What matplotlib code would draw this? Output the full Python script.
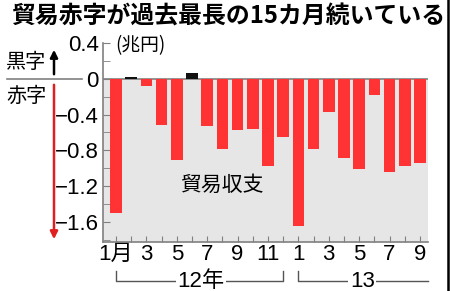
import numpy as np
import matplotlib.pyplot as plt
from matplotlib.lines import Line2D

# 貿易収支 (兆円), 2012年1月 - 2013年9月
values_2012 = [-1.50, 0.02, -0.08, -0.52, -0.91, 0.06, -0.53, -0.78, -0.57, -0.56, -0.97, -0.65]
values_2013 = [-1.64, -0.79, -0.37, -0.89, -1.01, -0.18, -1.04, -0.97, -0.94]
month_labels = ['1月', '', '3', '', '5', '', '7', '', '9', '', '11', '',
                '1', '', '3', '', '5', '', '7', '', '9']
y_ticks = [0.4, 0, -0.4, -0.8, -1.2, -1.6]
y_labels = ['0.4', '0', '−0.4', '−0.8', '−1.2', '−1.6']

values = np.array(values_2012 + values_2013)
x = np.arange(len(values))

W, H = 451, 291
NUM = ['Liberation Sans Narrow', 'Liberation Sans', 'Noto Sans CJK JP']
JP = ['Noto Sans CJK JP', 'DejaVu Sans']

def fx(px):
    return px / W

def fy(py):
    return 1 - py / H

fig = plt.figure(figsize=(W / 100, H / 100), dpi=100)
fig.patch.set_facecolor('white')
ax = fig.add_axes([fx(103), fy(241.5), fx(428) - fx(103), fy(43) - fy(241.5)])

ylo, yhi = -1.818, 0.4
ax.set_ylim(ylo, yhi)
ax.set_xlim(-0.855, 20.53)
ax.set_facecolor('white')
ax.axhspan(ylo, 0, color='#e6e6e6', zorder=0, lw=0)
ax.axhline(0, color='#808080', lw=1.2, zorder=1)

colors = ['#111111' if v > 0 else '#ff3333' for v in values]
ax.bar(x, values, width=0.76, color=colors, zorder=2)

for s in ['top', 'right']:
    ax.spines[s].set_visible(False)
for s in ['left', 'bottom']:
    ax.spines[s].set_color('#808080')
    ax.spines[s].set_linewidth(1.2)

ax.set_yticks(y_ticks)
ax.set_yticklabels(y_labels, family=NUM, fontsize=16)
ax.set_yticks(np.arange(-1.8, 0.41, 0.2), minor=True)
ax.tick_params(axis='y', which='both', direction='in', length=5, color='#808080', pad=3)

ax.set_xticks(x)
ax.set_xticklabels(month_labels, family=NUM, fontsize=16)
ax.tick_params(axis='x', direction='in', length=4, color='#808080', pad=2)

ax.text(7.0, -1.19, '貿易収支', family=JP, fontsize=15, ha='center', va='center', zorder=3)

# year brackets under the month labels
tr = ax.get_xaxis_transform()
yb, yt = -0.2015, -0.15
ax.plot([0, 0, 11, 11], [yt, yb, yb, yt], color='#555555', lw=1, transform=tr, clip_on=False)
ax.plot([12, 12, 20.53], [yt, yb, yb], color='#555555', lw=1, transform=tr, clip_on=False)
ax.text(5.6, yb, '12年', family=NUM, fontsize=16, ha='center', va='center', transform=tr,
        bbox=dict(facecolor='white', edgecolor='none', pad=1))
ax.text(16.2, yb, '13', family=NUM, fontsize=16, ha='center', va='center', transform=tr,
        bbox=dict(facecolor='white', edgecolor='none', pad=1))

# title and side labels
fig.text(fx(11), fy(17), '貿易赤字が過去最長の15カ月続いている', family=JP, fontweight='bold',
         fontsize=17.2, ha='left', va='center')
fig.text(fx(115), fy(46), '(兆円)', family=JP, fontsize=13.5, ha='left', va='center')
fig.text(fx(6), fy(63), '黒字', family=JP, fontsize=14.5, ha='left', va='center')
fig.text(fx(6), fy(96), '赤字', family=JP, fontsize=14.5, ha='left', va='center')
fig.add_artist(Line2D([fx(7), fx(82)], [fy(79), fy(79)], color='#808080', lw=1.2))

ax.annotate('', xy=(54, H - 47), xytext=(54, H - 77), xycoords='figure pixels',
            arrowprops=dict(arrowstyle='-|>', color='black', lw=1.8, mutation_scale=11))
ax.annotate('', xy=(54, H - 242), xytext=(54, H - 82), xycoords='figure pixels',
            arrowprops=dict(arrowstyle='-|>', color='#e02020', lw=1.8, mutation_scale=11))

# frame line on the right edge
fig.add_artist(Line2D([fx(448), fx(448)], [0, 1], color='black', lw=1.8))

fig.savefig('out.png', dpi=100)
